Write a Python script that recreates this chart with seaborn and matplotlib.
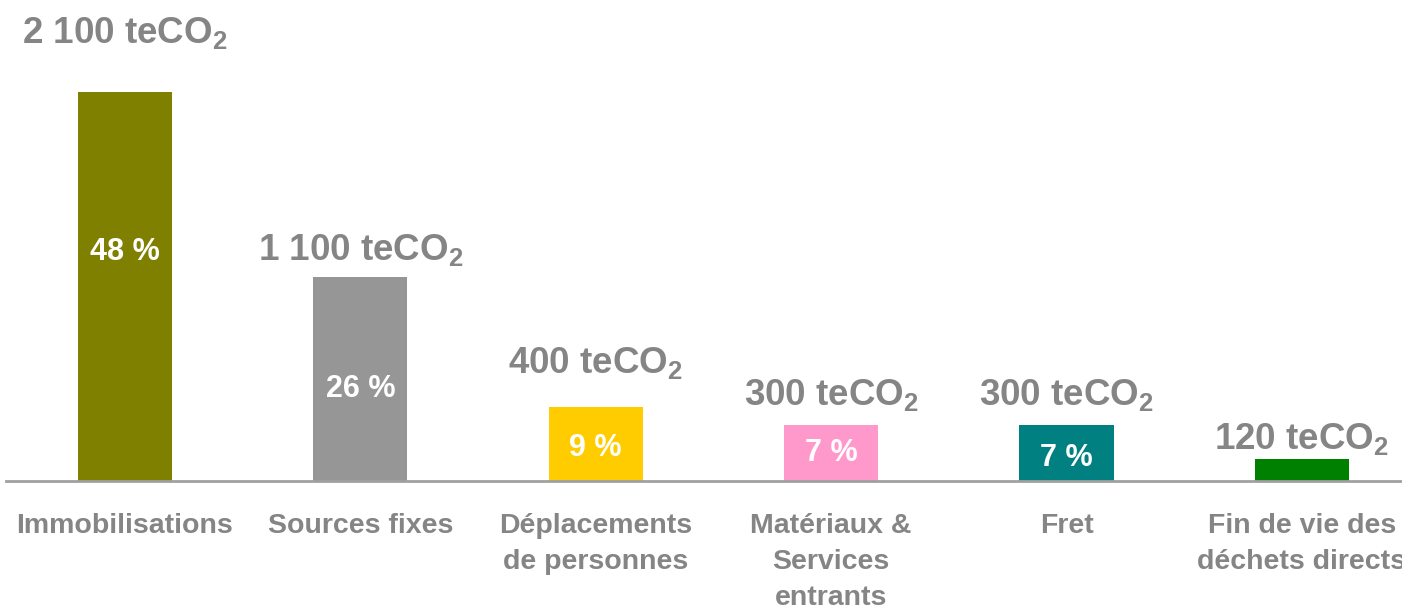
import matplotlib
matplotlib.use("Agg")
import matplotlib.pyplot as plt
import seaborn as sns
import pandas as pd

# ------------------------------
# data

CATEGORIES = [
    "Immobilisations",
    "Sources fixes",
    "Déplacements\nde personnes",
    "Matériaux &\nServices\nentrants",
    "Fret",
    "Fin de vie des\ndéchets directs",
]
EMISSIONS = [2100, 1100, 400, 300, 300, 120]  # teCO2
SHARES = [48, 26, 9, 7, 7, None]  # %

# ------------------------------
# style

BAR_COLORS = ["#808000", "#969696", "#FFCC00", "#FF99CC", "#008080", "#008000"]
TEXT_GREY = "#858585"
AXIS_GREY = "#a0a0a0"

DPI = 100
FIGSIZE = (1402 / DPI, 614 / DPI)

# label gap above each bar (px) and height fraction of the share label
LABEL_GAP_PX = [49, 17, 34, 20, 20, 10]
SHARE_FRAC = [0.59, 0.45, 0.44, 0.5, 0.42, 0.5]

sns.set_style("white")
plt.rcParams["font.family"] = ["Liberation Sans", "DejaVu Sans"]
plt.rcParams["font.weight"] = "bold"
plt.rcParams["mathtext.fontset"] = "custom"
plt.rcParams["mathtext.rm"] = "Liberation Sans:bold"
plt.rcParams["mathtext.bf"] = "Liberation Sans:bold"
plt.rcParams["mathtext.default"] = "rm"


def fmt_value(v):
    return f"{v:,}".replace(",", " ") + " teCO$_2$"


df = pd.DataFrame({"cat": CATEGORIES, "val": EMISSIONS})

fig = plt.figure(figsize=FIGSIZE, dpi=DPI)
ax = fig.add_axes([6 / 1402, (614 - 481) / 614, 1 - 6 / 1402, 463 / 614])

sns.barplot(data=df, x="cat", y="val", hue="cat", palette=BAR_COLORS,
            width=0.4, legend=False, saturation=1, ax=ax, linewidth=0)

ax.set_xlim(-0.505, 5.425)
ax.set_ylim(0, 2500)

for s in ["top", "right", "left"]:
    ax.spines[s].set_visible(False)
ax.spines["bottom"].set_color(AXIS_GREY)
ax.spines["bottom"].set_linewidth(2)
ax.set_yticks([])
ax.set_xlabel("")
ax.set_ylabel("")
ax.tick_params(axis="x", length=0, pad=23, labelsize=20.5, labelcolor=TEXT_GREY)
for lbl in ax.get_xticklabels():
    lbl.set_fontweight("bold")
    lbl.set_linespacing(1.5)
    lbl.set_verticalalignment("top")

for i, (v, share) in enumerate(zip(EMISSIONS, SHARES)):
    ax.annotate(fmt_value(v), xy=(i, v), xytext=(0, LABEL_GAP_PX[i] * 0.72),
                textcoords="offset points", ha="center", va="baseline",
                fontsize=26.5, fontweight="bold", color=TEXT_GREY)
    if share is not None:
        ax.text(i, v * SHARE_FRAC[i], f"{share} %", ha="center", va="center",
                fontsize=22, fontweight="bold", color="white")

fig.savefig("out.png", dpi=DPI)
plt.close(fig)
